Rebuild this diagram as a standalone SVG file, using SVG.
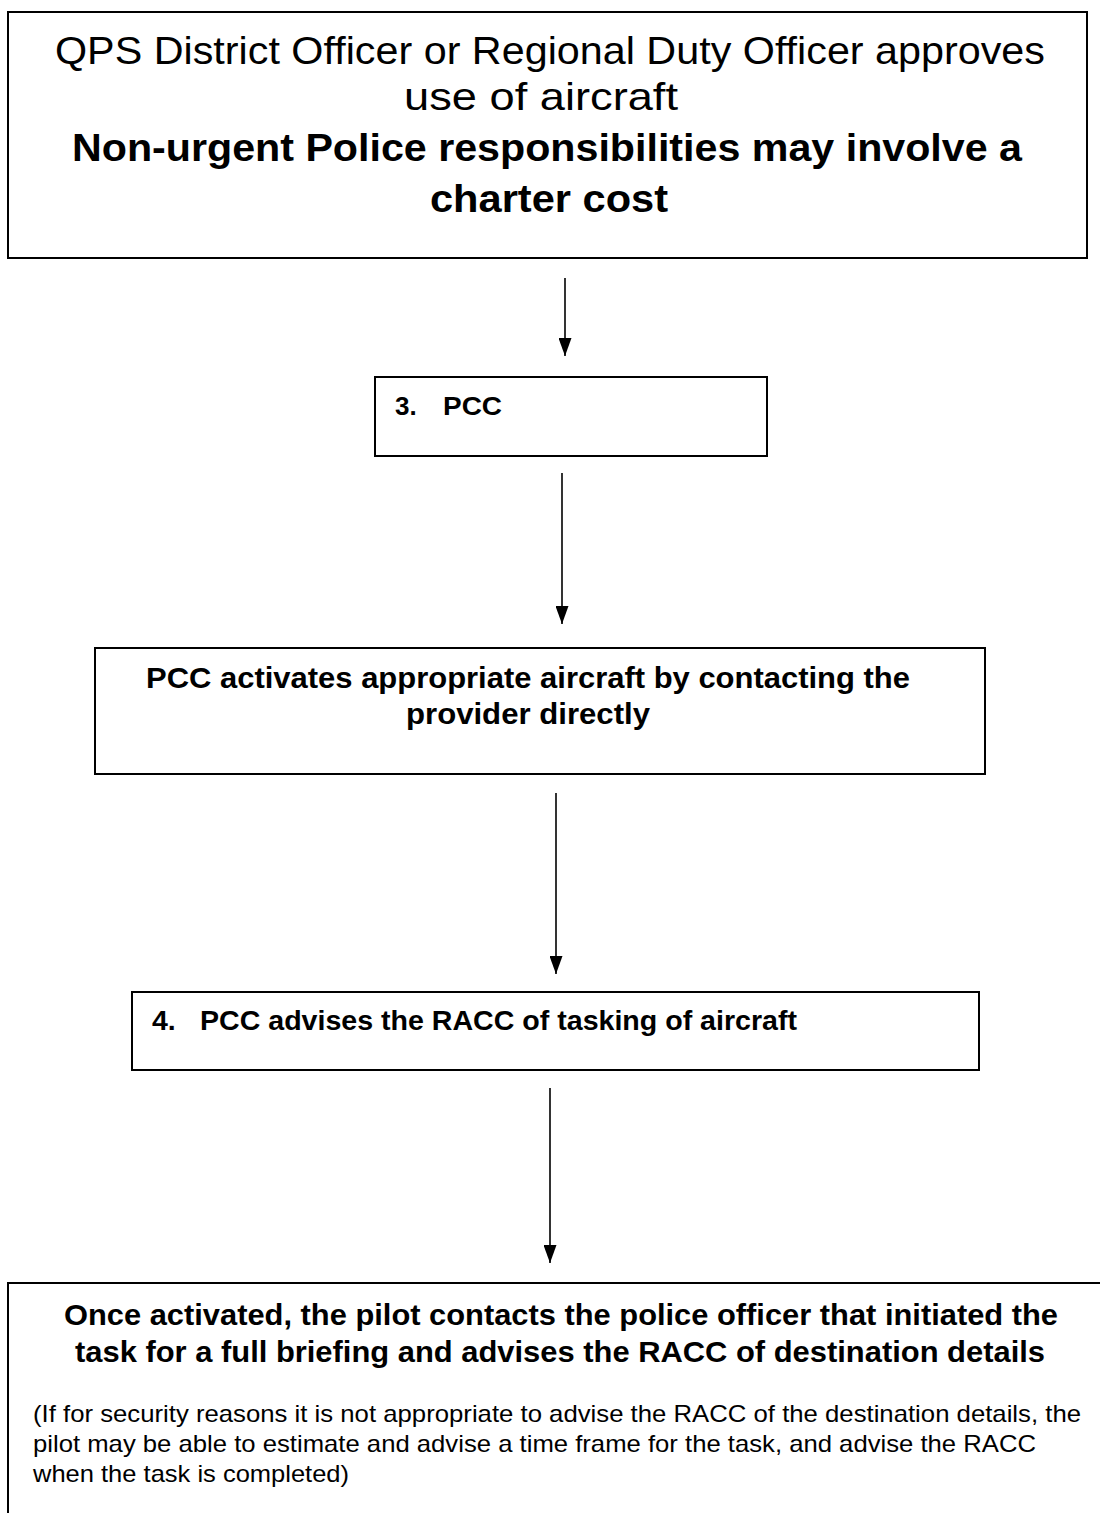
<svg xmlns="http://www.w3.org/2000/svg" width="1100" height="1513" viewBox="0 0 1100 1513">
  <style>
    .box { fill: #fff; stroke: #000; stroke-width: 2; }
    .edge { stroke: #000; stroke-width: 1.6; fill: none; marker-end: url(#arrow); }
    .t { font-family: "Liberation Sans", Arial, sans-serif; fill: #000; }
    .b { font-weight: bold; }
  </style>
  <defs>
    <marker id="arrow" markerWidth="18" markerHeight="13" refX="18" refY="6.5" orient="auto" markerUnits="userSpaceOnUse" viewBox="0 0 18 13">
      <path d="M0,0 L18,6.5 L0,13 Z" fill="#000"/>
    </marker>
  </defs>
  <rect width="1100" height="1513" fill="#fff"/>

  <g id="connectors">
    <line class="edge" x1="565" y1="278" x2="565" y2="356"/>
    <line class="edge" x1="562" y1="473" x2="562" y2="624"/>
    <line class="edge" x1="556" y1="793" x2="556" y2="974"/>
    <line class="edge" x1="550" y1="1088" x2="550" y2="1263"/>
  </g>

  <g id="approval">
    <rect class="box" x="8" y="12" width="1079" height="246"/>
    <text class="t" x="550" y="64" font-size="39" text-anchor="middle" textLength="990" lengthAdjust="spacingAndGlyphs">QPS District Officer or Regional Duty Officer approves</text>
    <text class="t" x="541" y="110" font-size="39" text-anchor="middle" textLength="274" lengthAdjust="spacingAndGlyphs">use of aircraft</text>
    <text class="t b" x="547" y="161" font-size="39" text-anchor="middle" textLength="950" lengthAdjust="spacingAndGlyphs">Non-urgent Police responsibilities may involve a</text>
    <text class="t b" x="549" y="212" font-size="39" text-anchor="middle" textLength="238" lengthAdjust="spacingAndGlyphs">charter cost</text>
  </g>

  <g id="pcc">
    <rect class="box" x="375" y="377" width="392" height="79"/>
    <text class="t b" x="395" y="415" font-size="26">3.</text>
    <text class="t b" x="443" y="415" font-size="26" textLength="59" lengthAdjust="spacingAndGlyphs">PCC</text>
  </g>

  <g id="activate">
    <rect class="box" x="95" y="648" width="890" height="126"/>
    <text class="t b" x="528" y="688" font-size="29.5" text-anchor="middle" textLength="764" lengthAdjust="spacingAndGlyphs">PCC activates appropriate aircraft by contacting the</text>
    <text class="t b" x="528" y="724" font-size="29.5" text-anchor="middle" textLength="244" lengthAdjust="spacingAndGlyphs">provider directly</text>
  </g>

  <g id="advise">
    <rect class="box" x="132" y="992" width="847" height="78"/>
    <text class="t b" x="152" y="1030" font-size="28.5">4.</text>
    <text class="t b" x="200" y="1030" font-size="28.5" textLength="597" lengthAdjust="spacingAndGlyphs">PCC advises the RACC of tasking of aircraft</text>
  </g>

  <g id="briefing">
    <path class="box" d="M1100,1283 L8,1283 L8,1515"/>
    <text class="t b" x="561" y="1325" font-size="30" text-anchor="middle" textLength="994" lengthAdjust="spacingAndGlyphs">Once activated, the pilot contacts the police officer that initiated the</text>
    <text class="t b" x="560" y="1362" font-size="30" text-anchor="middle" textLength="970" lengthAdjust="spacingAndGlyphs">task for a full briefing and advises the RACC of destination details</text>
    <text class="t" x="33" y="1422" font-size="24" textLength="1048" lengthAdjust="spacingAndGlyphs">(If for security reasons it is not appropriate to advise the RACC of the destination details, the</text>
    <text class="t" x="33" y="1452" font-size="24" textLength="1003" lengthAdjust="spacingAndGlyphs">pilot may be able to estimate and advise a time frame for the task, and advise the RACC</text>
    <text class="t" x="33" y="1482" font-size="24" textLength="316" lengthAdjust="spacingAndGlyphs">when the task is completed)</text>
  </g>
</svg>
